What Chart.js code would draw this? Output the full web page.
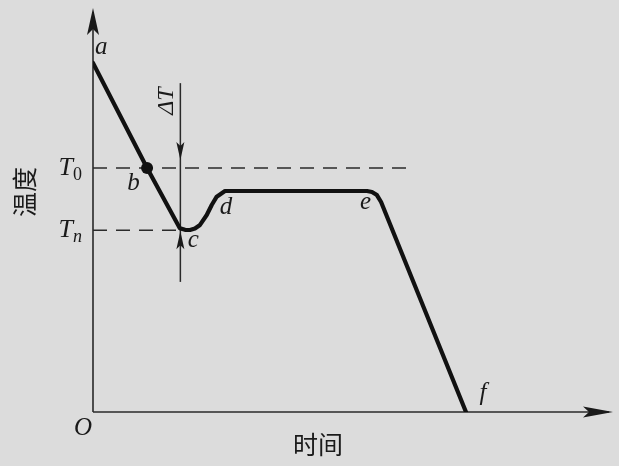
<!DOCTYPE html>
<html>
<head>
<meta charset="utf-8">
<script src="https://cdn.jsdelivr.net/npm/chart.js@4"></script>
<style>
html,body{margin:0;padding:0;background:#dcdcdc;}
#wrap{width:619px;height:466px;position:relative;}
</style>
</head>
<body>
<div id="wrap"><canvas id="c" width="619" height="466"></canvas></div>
<script>
// Curve a-b-c-d-e-f (time, temperature) in arbitrary units
const timeValues = [0, 10.4, 16.7, 17.7, 18.65, 19.6, 20.58, 21.87, 22.83, 23.79, 25.38, 52.7, 53.65, 54.6, 55.4, 71.73];
const tempValues = [86.4, 60.4, 45.5, 45.1, 45.05, 45.4, 46.3, 48.76, 51.24, 53.29, 54.7, 54.7, 54.46, 53.7, 51.98, 0];
// Reference levels
const levelNames = ["T0", "Tn"];
const levelValues = [60.4, 45.0];
const levelEnds = [61, 16.7];
// Point b marker
const markerTime = [10.4];
const markerTemp = [60.4];
// ΔT indicator
const deltaTime = 16.8;
const deltaTop = 81.4;
const deltaBottom = 32.2;
// Point labels
const pointNames = ["a", "b", "c", "d", "e", "f"];
const pointLabelTime = [1.6, 7.8, 19.3, 25.6, 52.4, 75.0];
const pointLabelTemp = [90.3, 56.6, 42.4, 50.6, 51.8, 4.6];
// Axis titles
const xTitle = "时间";
const yTitle = "温度";
const originLabel = "O";
const deltaLabel = "ΔT";

const curve = timeValues.map((t, i) => ({x: t, y: tempValues[i]}));
const marker = markerTime.map((t, i) => ({x: t, y: markerTemp[i]}));

function arrowHead(ctx, tipX, tipY, dx, dy, len, half, notch) {
  const px = -dy, py = dx;
  ctx.beginPath();
  ctx.moveTo(tipX, tipY);
  ctx.lineTo(tipX - dx*len + px*half, tipY - dy*len + py*half);
  ctx.lineTo(tipX - dx*(len - notch), tipY - dy*(len - notch));
  ctx.lineTo(tipX - dx*len - px*half, tipY - dy*len - py*half);
  ctx.closePath();
  ctx.fill();
}

const drawPlugin = {
  id: 'schematic',
  beforeDraw(chart) {
    const ctx = chart.ctx;
    ctx.save();
    ctx.fillStyle = '#dcdcdc';
    ctx.fillRect(0, 0, chart.width, chart.height);
    ctx.restore();
  },
  beforeDatasetsDraw(chart) {
    const ctx = chart.ctx, xs = chart.scales.x, ys = chart.scales.y;
    const X = v => xs.getPixelForValue(v), Y = v => ys.getPixelForValue(v);
    ctx.save();
    ctx.strokeStyle = '#2a2a2a';
    ctx.fillStyle = '#1a1a1a';
    ctx.lineWidth = 1.6;
    // axes
    ctx.beginPath();
    ctx.moveTo(X(0), Y(0)); ctx.lineTo(X(100) - 4, Y(0));
    ctx.moveTo(X(0), Y(0)); ctx.lineTo(X(0), Y(100) + 4);
    ctx.stroke();
    arrowHead(ctx, X(100), Y(0), 1, 0, 30, 5.5, 6);
    arrowHead(ctx, X(0), Y(100), 0, -1, 27, 6, 6);
    // dashed levels
    ctx.setLineDash([14, 9]);
    ctx.lineWidth = 1.6;
    levelValues.forEach((v, i) => {
      ctx.beginPath();
      ctx.moveTo(X(0), Y(v)); ctx.lineTo(X(levelEnds[i]), Y(v));
      ctx.stroke();
    });
    ctx.setLineDash([]);
    // ΔT line
    ctx.lineWidth = 1.5;
    ctx.beginPath();
    ctx.moveTo(X(deltaTime), Y(deltaTop)); ctx.lineTo(X(deltaTime), Y(deltaBottom));
    ctx.stroke();
    arrowHead(ctx, X(deltaTime), Y(levelValues[0]) - 8, 0, 1, 18, 4, 4);
    arrowHead(ctx, X(deltaTime), Y(levelValues[1]) + 1, 0, -1, 18, 4, 4);
    ctx.restore();
  },
  afterDatasetsDraw(chart) {
    const ctx = chart.ctx, xs = chart.scales.x, ys = chart.scales.y;
    const X = v => xs.getPixelForValue(v), Y = v => ys.getPixelForValue(v);
    ctx.save();
    ctx.fillStyle = '#1a1a1a';
    ctx.textAlign = 'center';
    ctx.textBaseline = 'middle';
    const ital = '"Liberation Serif", "DejaVu Serif", serif';
    ctx.font = 'italic 25px ' + ital;
    pointNames.forEach((n, i) => ctx.fillText(n, X(pointLabelTime[i]), Y(pointLabelTemp[i])));
    ctx.fillText(originLabel, X(0) - 10, Y(0) + 16);
    // level labels
    levelNames.forEach((n, i) => {
      const y = Y(levelValues[i]);
      ctx.font = 'italic 26px ' + ital;
      ctx.textAlign = 'right';
      ctx.fillText(n[0], X(0) - 20, y);
      const sub = n.slice(1);
      ctx.font = (/[0-9]/.test(sub) ? '' : 'italic ') + '18px ' + ital;
      ctx.textAlign = 'left';
      ctx.fillText(sub, X(0) - 20, y + 7);
    });
    // ΔT rotated
    ctx.save();
    ctx.translate(X(deltaTime) - 14, Y(deltaTop) + 18);
    ctx.rotate(-Math.PI / 2);
    ctx.textAlign = 'center';
    ctx.font = 'italic 24px ' + ital;
    ctx.fillText(deltaLabel, 0, 0);
    ctx.restore();
    // axis titles
    const cjk = '"Noto Sans CJK SC", sans-serif';
    ctx.font = '25px ' + cjk;
    ctx.textAlign = 'center';
    ctx.fillText(xTitle, (X(0) + X(100)) / 2 - 35, Y(0) + 32);
    ctx.save();
    ctx.translate(X(0) - 69, (Y(0) + Y(100)) / 2 - 18);
    ctx.rotate(-Math.PI / 2);
    ctx.fillText(yTitle, 0, 0);
    ctx.restore();
    ctx.restore();
  }
};

new Chart(document.getElementById('c'), {
  type: 'scatter',
  data: {
    datasets: [
      {data: curve, showLine: true, borderColor: '#111', borderWidth: 4.2, pointRadius: 0, tension: 0, borderJoinStyle: 'round', borderCapStyle: 'round'},
      {data: marker, showLine: false, pointRadius: 6, backgroundColor: '#111', borderColor: '#111', borderWidth: 0}
    ]
  },
  options: {
    responsive: false,
    animation: false,
    layout: {padding: {left: 93, right: 6, top: 8, bottom: 54}},
    plugins: {legend: {display: false}, tooltip: {enabled: false}},
    scales: {
      x: {type: 'linear', min: 0, max: 100, display: false},
      y: {type: 'linear', min: 0, max: 100, display: false}
    }
  },
  plugins: [drawPlugin]
});
</script>
</body>
</html>
